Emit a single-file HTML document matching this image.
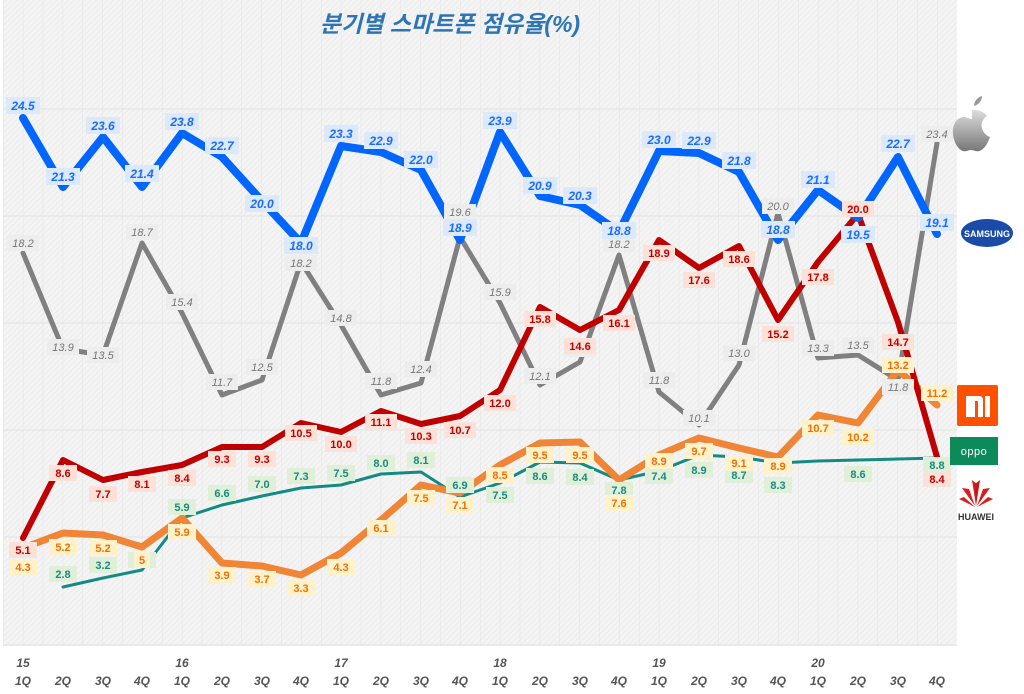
<!DOCTYPE html>
<html><head><meta charset="utf-8"><style>
body{margin:0;background:#fff;}
svg{display:block;font-family:"Liberation Sans","Noto Sans CJK KR",sans-serif;}
.b rect{fill:#dce9fb}.b text{fill:#1a6cff;font-weight:bold;font-style:italic;font-size:12px}
.g rect{fill:#ededed}.g text{fill:#777;font-style:italic;font-size:11px}
.r rect{fill:#fbe1d7}.r text{fill:#c00000;font-size:11px;font-weight:bold}
.o rect{fill:#fff1c9}.o text{fill:#f07000;font-size:11px;font-weight:bold}
.t rect{fill:#e0f0d8}.t text{fill:#1a8a80;font-size:11px;font-weight:bold}
text{text-anchor:middle}
.ax{fill:#555;font-weight:bold;font-style:italic;font-size:12px}
</style></head><body>
<svg width="1024" height="694" viewBox="0 0 1024 694">
<defs>
<pattern id="h" width="4" height="4" patternUnits="userSpaceOnUse" patternTransform="rotate(45)"><rect width="4" height="4" fill="#f4f4f4"/><line x1="0" y1="0" x2="0" y2="4" stroke="#e9e9e9" stroke-width="1.5"/></pattern>
<pattern id="v" width="19.875" height="700" patternUnits="userSpaceOnUse" x="3"><line x1="0" y1="0" x2="0" y2="700" stroke="#e4e4e4" stroke-width="1"/></pattern>
<linearGradient id="ap" x1="0" y1="0" x2="0" y2="1"><stop offset="0" stop-color="#ddd"/><stop offset="1" stop-color="#777"/></linearGradient>
</defs>
<rect x="3" y="0" width="954" height="646" fill="url(#h)"/>
<rect x="3" y="0" width="954" height="646" fill="url(#v)"/>
<g stroke="#e2e2e2" stroke-width="1"><line x1="3" y1="109" x2="957" y2="109"/><line x1="3" y1="216" x2="957" y2="216"/><line x1="3" y1="323" x2="957" y2="323"/><line x1="3" y1="430" x2="957" y2="430"/><line x1="3" y1="537" x2="957" y2="537"/><line x1="3" y1="645" x2="957" y2="645"/></g>
<text x="450" y="32" style="fill:#2e75b6;font-weight:bold;font-style:italic;font-size:23px">분기별 스마트폰 점유율(%)</text>

<g fill="none" stroke-linejoin="round" stroke-linecap="round">
<polyline stroke="#808080" stroke-width="5" points="23,253 63,349 103,355 142,243 182,313 222,395 262,380 301,262 341,325 381,395 421,383 460,237 500,303 540,385 580,362 619,255 659,392 699,425 739,365 778,213 818,358 858,355 898,380 937,143"/>
<polyline stroke="#138a84" stroke-width="3" points="63,587 103,578 142,570 182,518 222,505 262,496 301,488 341,485 381,474 421,472 460,497 500,483 540,462 580,463 619,480 659,471 699,455 739,457 778,463 818,461 858,460 898,459 937,458"/>
<polyline stroke="#f08535" stroke-width="7" points="23,548 63,533 103,535 142,547 182,518 222,563 262,566 301,575 341,553 381,520 421,485 460,493 500,465 540,443 580,442 619,480 659,455 699,438 739,448 778,457 818,415 858,423 898,370 937,405"/>
<polyline stroke="#c00000" stroke-width="6" points="23,538 63,460 103,480 142,472 182,465 222,447 262,447 301,423 341,432 381,411 421,424 460,416 500,390 540,307 580,330 619,310 659,240 699,268 739,246 778,320 818,262 858,214 898,322 937,457"/>
<polyline stroke="#0066ff" stroke-width="8" points="23,118 63,187 103,137 142,187 182,133 222,157 262,201 301,243 341,146 381,152 421,170 460,240 500,132 540,196 580,205 619,232 659,151 699,153 739,172 778,240 818,190 858,218 898,157 937,234"/>
</g>

<g class="g">
<g><rect x="7" y="235" width="32" height="16"/><text x="23" y="247">18.2</text></g>
<g><rect x="47" y="339" width="32" height="16"/><text x="63" y="351">13.9</text></g>
<g><rect x="87" y="347" width="32" height="16"/><text x="103" y="359">13.5</text></g>
<g><rect x="126" y="224" width="32" height="16"/><text x="142" y="236">18.7</text></g>
<g><rect x="166" y="294" width="32" height="16"/><text x="182" y="306">15.4</text></g>
<g><rect x="206" y="374" width="32" height="16"/><text x="222" y="386">11.7</text></g>
<g><rect x="246" y="359" width="32" height="16"/><text x="262" y="371">12.5</text></g>
<g><rect x="285" y="255" width="32" height="16"/><text x="301" y="267">18.2</text></g>
<g><rect x="325" y="310" width="32" height="16"/><text x="341" y="322">14.8</text></g>
<g><rect x="365" y="373" width="32" height="16"/><text x="381" y="385">11.8</text></g>
<g><rect x="405" y="361" width="32" height="16"/><text x="421" y="373">12.4</text></g>
<g><rect x="444" y="204" width="32" height="16"/><text x="460" y="216">19.6</text></g>
<g><rect x="484" y="284" width="32" height="16"/><text x="500" y="296">15.9</text></g>
<g><rect x="524" y="368" width="32" height="16"/><text x="540" y="380">12.1</text></g>
<g><rect x="564" y="341" width="32" height="16"/><text x="580" y="353">13.1</text></g>
<g><rect x="603" y="236" width="32" height="16"/><text x="619" y="248">18.2</text></g>
<g><rect x="643" y="372" width="32" height="16"/><text x="659" y="384">11.8</text></g>
<g><rect x="683" y="410" width="32" height="16"/><text x="699" y="422">10.1</text></g>
<g><rect x="723" y="345" width="32" height="16"/><text x="739" y="357">13.0</text></g>
<g><rect x="762" y="198" width="32" height="16"/><text x="778" y="210">20.0</text></g>
<g><rect x="802" y="340" width="32" height="16"/><text x="818" y="352">13.3</text></g>
<g><rect x="842" y="337" width="32" height="16"/><text x="858" y="349">13.5</text></g>
<g><rect x="882" y="379" width="32" height="16"/><text x="898" y="391">11.8</text></g>
<g><rect x="921" y="126" width="32" height="16"/><text x="937" y="138">23.4</text></g>
</g>

<g class="t">
<g><rect x="49" y="566" width="28" height="16"/><text x="63" y="578">2.8</text></g>
<g><rect x="89" y="557" width="28" height="16"/><text x="103" y="569">3.2</text></g>
<g><rect x="128" y="552" width="28" height="16"/><text x="142" y="564">3.6</text></g>
<g><rect x="168" y="499" width="28" height="16"/><text x="182" y="511">5.9</text></g>
<g><rect x="208" y="485" width="28" height="16"/><text x="222" y="497">6.6</text></g>
<g><rect x="248" y="476" width="28" height="16"/><text x="262" y="488">7.0</text></g>
<g><rect x="287" y="468" width="28" height="16"/><text x="301" y="480">7.3</text></g>
<g><rect x="327" y="465" width="28" height="16"/><text x="341" y="477">7.5</text></g>
<g><rect x="367" y="455" width="28" height="16"/><text x="381" y="467">8.0</text></g>
<g><rect x="407" y="452" width="28" height="16"/><text x="421" y="464">8.1</text></g>
<g><rect x="446" y="477" width="28" height="16"/><text x="460" y="489">6.9</text></g>
<g><rect x="486" y="487" width="28" height="16"/><text x="500" y="499">7.5</text></g>
<g><rect x="526" y="468" width="28" height="16"/><text x="540" y="480">8.6</text></g>
<g><rect x="566" y="469" width="28" height="16"/><text x="580" y="481">8.4</text></g>
<g><rect x="605" y="482" width="28" height="16"/><text x="619" y="494">7.8</text></g>
<g><rect x="645" y="468" width="28" height="16"/><text x="659" y="480">7.4</text></g>
<g><rect x="685" y="462" width="28" height="16"/><text x="699" y="474">8.9</text></g>
<g><rect x="725" y="467" width="28" height="16"/><text x="739" y="479">8.7</text></g>
<g><rect x="764" y="477" width="28" height="16"/><text x="778" y="489">8.3</text></g>
<g><rect x="844" y="466" width="28" height="16"/><text x="858" y="478">8.6</text></g>
<g><rect x="923" y="457" width="28" height="16"/><text x="937" y="469">8.8</text></g>
</g>

<g class="o">
<g><rect x="9" y="559" width="28" height="16"/><text x="23" y="571">4.3</text></g>
<g><rect x="49" y="539" width="28" height="16"/><text x="63" y="551">5.2</text></g>
<g><rect x="89" y="540" width="28" height="16"/><text x="103" y="552">5.2</text></g>
<g><rect x="134" y="552" width="16" height="16"/><text x="142" y="564">5</text></g>
<g><rect x="168" y="524" width="28" height="16"/><text x="182" y="536">5.9</text></g>
<g><rect x="208" y="567" width="28" height="16"/><text x="222" y="579">3.9</text></g>
<g><rect x="248" y="571" width="28" height="16"/><text x="262" y="583">3.7</text></g>
<g><rect x="287" y="580" width="28" height="16"/><text x="301" y="592">3.3</text></g>
<g><rect x="327" y="559" width="28" height="16"/><text x="341" y="571">4.3</text></g>
<g><rect x="367" y="520" width="28" height="16"/><text x="381" y="532">6.1</text></g>
<g><rect x="407" y="490" width="28" height="16"/><text x="421" y="502">7.5</text></g>
<g><rect x="446" y="497" width="28" height="16"/><text x="460" y="509">7.1</text></g>
<g><rect x="486" y="467" width="28" height="16"/><text x="500" y="479">8.5</text></g>
<g><rect x="526" y="447" width="28" height="16"/><text x="540" y="459">9.5</text></g>
<g><rect x="566" y="447" width="28" height="16"/><text x="580" y="459">9.5</text></g>
<g><rect x="605" y="495" width="28" height="16"/><text x="619" y="507">7.6</text></g>
<g><rect x="645" y="453" width="28" height="16"/><text x="659" y="465">8.9</text></g>
<g><rect x="685" y="443" width="28" height="16"/><text x="699" y="455">9.7</text></g>
<g><rect x="725" y="455" width="28" height="16"/><text x="739" y="467">9.1</text></g>
<g><rect x="764" y="458" width="28" height="16"/><text x="778" y="470">8.9</text></g>
<g><rect x="802" y="420" width="32" height="16"/><text x="818" y="432">10.7</text></g>
<g><rect x="842" y="429" width="32" height="16"/><text x="858" y="441">10.2</text></g>
<g><rect x="882" y="357" width="32" height="16"/><text x="898" y="369">13.2</text></g>
<g><rect x="921" y="385" width="32" height="16"/><text x="937" y="397">11.2</text></g>
</g>

<g class="r">
<g><rect x="9" y="542" width="28" height="16"/><text x="23" y="554">5.1</text></g>
<g><rect x="49" y="465" width="28" height="16"/><text x="63" y="477">8.6</text></g>
<g><rect x="89" y="486" width="28" height="16"/><text x="103" y="498">7.7</text></g>
<g><rect x="128" y="476" width="28" height="16"/><text x="142" y="488">8.1</text></g>
<g><rect x="168" y="470" width="28" height="16"/><text x="182" y="482">8.4</text></g>
<g><rect x="208" y="451" width="28" height="16"/><text x="222" y="463">9.3</text></g>
<g><rect x="248" y="451" width="28" height="16"/><text x="262" y="463">9.3</text></g>
<g><rect x="285" y="425" width="32" height="16"/><text x="301" y="437">10.5</text></g>
<g><rect x="325" y="436" width="32" height="16"/><text x="341" y="448">10.0</text></g>
<g><rect x="365" y="414" width="32" height="16"/><text x="381" y="426">11.1</text></g>
<g><rect x="405" y="428" width="32" height="16"/><text x="421" y="440">10.3</text></g>
<g><rect x="444" y="422" width="32" height="16"/><text x="460" y="434">10.7</text></g>
<g><rect x="484" y="395" width="32" height="16"/><text x="500" y="407">12.0</text></g>
<g><rect x="524" y="311" width="32" height="16"/><text x="540" y="323">15.8</text></g>
<g><rect x="564" y="338" width="32" height="16"/><text x="580" y="350">14.6</text></g>
<g><rect x="603" y="315" width="32" height="16"/><text x="619" y="327">16.1</text></g>
<g><rect x="643" y="245" width="32" height="16"/><text x="659" y="257">18.9</text></g>
<g><rect x="683" y="272" width="32" height="16"/><text x="699" y="284">17.6</text></g>
<g><rect x="723" y="251" width="32" height="16"/><text x="739" y="263">18.6</text></g>
<g><rect x="762" y="326" width="32" height="16"/><text x="778" y="338">15.2</text></g>
<g><rect x="802" y="269" width="32" height="16"/><text x="818" y="281">17.8</text></g>
<g><rect x="842" y="201" width="32" height="16"/><text x="858" y="213">20.0</text></g>
<g><rect x="882" y="334" width="32" height="16"/><text x="898" y="346">14.7</text></g>
<g><rect x="923" y="471" width="28" height="16"/><text x="937" y="483">8.4</text></g>
</g>

<g class="b">
<g><rect x="6" y="97" width="34" height="17"/><text x="23" y="110">24.5</text></g>
<g><rect x="46" y="168" width="34" height="17"/><text x="63" y="181">21.3</text></g>
<g><rect x="86" y="117" width="34" height="17"/><text x="103" y="130">23.6</text></g>
<g><rect x="125" y="165" width="34" height="17"/><text x="142" y="178">21.4</text></g>
<g><rect x="165" y="113" width="34" height="17"/><text x="182" y="126">23.8</text></g>
<g><rect x="205" y="137" width="34" height="17"/><text x="222" y="150">22.7</text></g>
<g><rect x="245" y="195" width="34" height="17"/><text x="262" y="208">20.0</text></g>
<g><rect x="284" y="237" width="34" height="17"/><text x="301" y="250">18.0</text></g>
<g><rect x="324" y="125" width="34" height="17"/><text x="341" y="138">23.3</text></g>
<g><rect x="364" y="132" width="34" height="17"/><text x="381" y="145">22.9</text></g>
<g><rect x="404" y="151" width="34" height="17"/><text x="421" y="164">22.0</text></g>
<g><rect x="443" y="219" width="34" height="17"/><text x="460" y="232">18.9</text></g>
<g><rect x="483" y="112" width="34" height="17"/><text x="500" y="125">23.9</text></g>
<g><rect x="523" y="177" width="34" height="17"/><text x="540" y="190">20.9</text></g>
<g><rect x="563" y="187" width="34" height="17"/><text x="580" y="200">20.3</text></g>
<g><rect x="602" y="222" width="34" height="17"/><text x="619" y="235">18.8</text></g>
<g><rect x="642" y="131" width="34" height="17"/><text x="659" y="144">23.0</text></g>
<g><rect x="682" y="132" width="34" height="17"/><text x="699" y="145">22.9</text></g>
<g><rect x="722" y="152" width="34" height="17"/><text x="739" y="165">21.8</text></g>
<g><rect x="761" y="221" width="34" height="17"/><text x="778" y="234">18.8</text></g>
<g><rect x="801" y="171" width="34" height="17"/><text x="818" y="184">21.1</text></g>
<g><rect x="841" y="226" width="34" height="17"/><text x="858" y="239">19.5</text></g>
<g><rect x="881" y="135" width="34" height="17"/><text x="898" y="148">22.7</text></g>
<g><rect x="920" y="214" width="34" height="17"/><text x="937" y="227">19.1</text></g>
</g>

<g class="ax">
<text x="23" y="667">15</text><text x="182" y="667">16</text><text x="341" y="667">17</text><text x="500" y="667">18</text><text x="659" y="667">19</text><text x="818" y="667">20</text>
<text x="23" y="685">1Q</text><text x="63" y="685">2Q</text><text x="103" y="685">3Q</text><text x="142" y="685">4Q</text>
<text x="182" y="685">1Q</text><text x="222" y="685">2Q</text><text x="262" y="685">3Q</text><text x="301" y="685">4Q</text>
<text x="341" y="685">1Q</text><text x="381" y="685">2Q</text><text x="421" y="685">3Q</text><text x="460" y="685">4Q</text>
<text x="500" y="685">1Q</text><text x="540" y="685">2Q</text><text x="580" y="685">3Q</text><text x="619" y="685">4Q</text>
<text x="659" y="685">1Q</text><text x="699" y="685">2Q</text><text x="739" y="685">3Q</text><text x="778" y="685">4Q</text>
<text x="818" y="685">1Q</text><text x="858" y="685">2Q</text><text x="898" y="685">3Q</text><text x="937" y="685">4Q</text>
</g>

<!-- logos -->
<path d="M972,110 c6,-1 12,2 15,6 c-5,3 -7,9 -4,15 c2,3 4,5 7,6 c-2,6 -6,13 -11,14 c-3,1 -5,-1 -8,-1 c-3,0 -5,2 -8,1 c-6,-2 -11,-12 -10,-22 c1,-8 6,-12 11,-12 c3,0 5,2 8,2 z" fill="url(#ap)"/>
<path d="M974,106 c0,-5 4,-9 8,-10 c0,5 -4,9 -8,10 z" fill="#999"/>
<ellipse cx="987" cy="233" rx="26" ry="14" fill="#1a4ba8"/>
<text x="987" y="237" style="fill:#fff;font-size:9px;font-weight:bold;font-family:'Liberation Sans Narrow','Liberation Sans',sans-serif">SAMSUNG</text>
<rect x="957" y="385" width="41" height="41" rx="2" fill="#ff5000"/>
<path d="M966,396 h13 q4,0 4,4 v17 h-5 v-16 h-3 v16 h-4 v-16 h-0 h-0 v16 h-5 z M985,396 h5 v21 h-5 z" fill="#fff"/>
<rect x="950" y="437" width="48" height="28" fill="#0c8a5a"/>
<text x="974" y="455" style="fill:#fff;font-size:11px;letter-spacing:0.5px">oppo</text>
<g fill="#d81e1e">
<path d="M976,506 l-4,-26 l5,4 z"/><path d="M976,506 l4,-26 l-5,4 z" fill="#c41818"/>
<path d="M975,506 l-13,-18 l7,1 z"/><path d="M977,506 l13,-18 l-7,1 z"/>
<path d="M975,507 l-16,-8 l5,-2 z"/><path d="M977,507 l16,-8 l-5,-2 z"/>
</g>
<text x="976" y="520" style="fill:#333;font-size:9px;font-weight:bold">HUAWEI</text>
</svg>
</body></html>
